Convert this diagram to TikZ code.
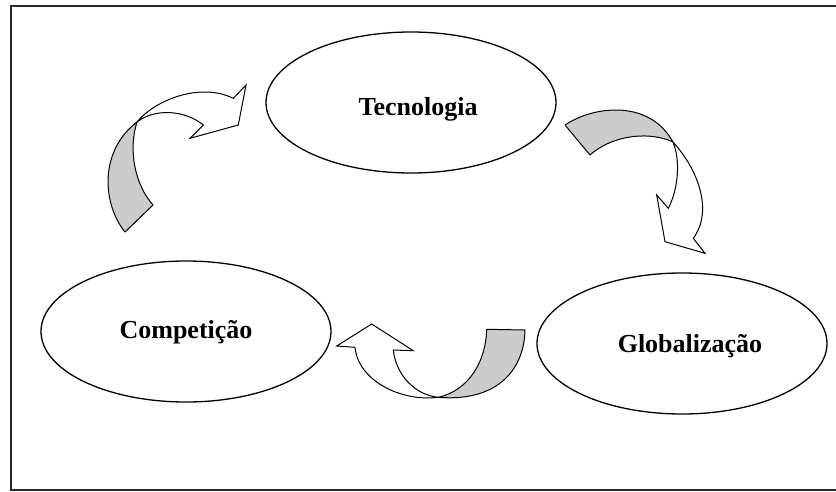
\documentclass[tikz,border=0pt]{standalone}
\usepackage{fontspec}
\setmainfont{Liberation Serif}
\usetikzlibrary{shapes.geometric}
\begin{document}
\begin{tikzpicture}[x=1pt,y=-1pt,
  bubble/.style={draw,ellipse,line width=1.3pt,minimum width=290pt,minimum height=141pt,inner sep=0pt},
  caption/.style={anchor=base,font=\fontsize{26}{30}\selectfont\bfseries,inner sep=0pt},
  ribbonback/.style={draw,fill=black!20,line width=1pt,line join=round},
  ribbonfront/.style={draw,fill=white,line width=1pt,line join=miter}]
\useasboundingbox (0,0) rectangle (836,491);
% page frame
\draw[line width=1.5pt,black!85] (850,6) -- (11,6) -- (11,490) -- (850,490);

% the three topics
\node[bubble] (tec) at (411,102.5) {};
\node[bubble] (comp) at (186,331.5) {};
\node[bubble] (glob) at (682,343.5) {};
\node[caption] (tecL) at (418,115) {Tecnologia};
\node[caption] (compL) at (186,338) {Competição};
\node[caption] (globL) at (690,352) {Globalização};

% curved arrow: Competição -> Tecnologia
\coordinate (a1t) at (137,122);
\draw[ribbonback] (125,232) .. controls (103,205) and (98,152) .. (a1t)
  .. controls (128,150) and (135,185) .. (153,205) -- cycle;
\draw[ribbonfront] (a1t) .. controls (155,100) and (200,82) .. (233.3,98.3)
  -- (246,85) -- (238.3,125) -- (190,138.3) -- (203.3,125)
  .. controls (185,110) and (155,108) .. (a1t) -- cycle;

% curved arrow: Tecnologia -> Globalização
\coordinate (a2t) at (672.7,141.7);
\draw[ribbonback] (565,125) .. controls (595,105) and (650,100) .. (a2t)
  .. controls (645,130) and (610,137) .. (590,155) -- cycle;
\draw[ribbonfront] (a2t) .. controls (697,168) and (714,210) .. (693.3,238.3)
  -- (705,253.3) -- (665,241.7) -- (656.7,195) -- (668.3,208.3)
  .. controls (678,190) and (681,160) .. (a2t) -- cycle;

% curved arrow: Globalização -> Competição
\coordinate (a3t) at (438.3,397.3);
\draw[ribbonback] (486.7,329.3) .. controls (486,360) and (470,390) .. (a3t)
  .. controls (495,402) and (524,372) .. (525,330) -- cycle;
\draw[ribbonfront] (a3t) .. controls (400,402) and (358,380) .. (355,347.3)
  -- (336.7,346) -- (371.7,324) -- (413.3,350.7) -- (393.3,350)
  .. controls (396,375) and (415,395) .. (a3t) -- cycle;
\end{tikzpicture}
\end{document}
